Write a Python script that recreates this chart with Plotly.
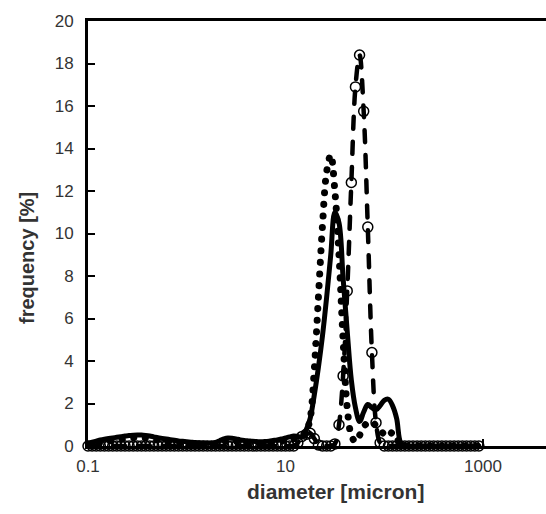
import plotly.graph_objects as go

# particle diameters (micron), 24 log-spaced size classes per decade
diameter = [
    0.1, 0.1101, 0.1212, 0.1334, 0.1468, 0.1616, 0.1778, 0.1957, 0.2154, 0.2371, 0.2610, 0.2873,
    0.3162, 0.3481, 0.3831, 0.4217, 0.4642, 0.5109, 0.5623, 0.6190, 0.6813, 0.7499, 0.8254, 0.9085,
    1.0, 1.101, 1.212, 1.334, 1.468, 1.616, 1.778, 1.957, 2.154, 2.371, 2.610, 2.873,
    3.162, 3.481, 3.831, 4.217, 4.642, 5.109, 5.623, 6.190, 6.813, 7.499, 8.254, 9.085,
    10.0, 11.01, 12.12, 13.34, 14.68, 16.16, 17.78, 19.57, 21.54, 23.71, 26.10, 28.73,
    31.62, 34.81, 38.31, 42.17, 46.42, 51.09, 56.23, 61.90, 68.13, 74.99, 82.54, 90.85,
    100.0, 110.1, 121.2, 133.4, 146.8, 161.6, 177.8, 195.7, 215.4, 237.1, 261.0, 287.3,
    316.2, 348.1, 383.1, 421.7, 464.2, 510.9, 562.3, 619.0, 681.3, 749.9, 825.4, 908.5,
]

freq_solid = [
    0.13, 0.18, 0.23, 0.28, 0.32, 0.35, 0.38, 0.41, 0.44, 0.47,
    0.49, 0.51, 0.52, 0.52, 0.50, 0.47, 0.43, 0.39, 0.36, 0.33,
    0.30, 0.27, 0.24, 0.22, 0.20, 0.18, 0.16, 0.15, 0.14, 0.13,
    0.13, 0.17, 0.25, 0.33, 0.38, 0.37, 0.33, 0.29, 0.26, 0.24,
    0.22, 0.21, 0.20, 0.21, 0.23, 0.26, 0.29, 0.33, 0.38, 0.43,
    0.47, 0.45, 0.42, 0.75, 1.3, 2.4, 3.7, 5.2, 7.0, 9.0,
    11.0, 10.5, 7.9, 5.4, 3.1, 1.8, 1.15, 1.6, 1.95, 1.8,
    1.7, 1.9, 2.15, 2.2, 1.9, 1.3, 0.15, 0.0, 0.0, 0.0,
    0.0, 0.0, 0.0, 0.0, 0.0, 0.0, 0.0, 0.0, 0.0, 0.0,
    0.0, 0.0, 0.0, 0.0, 0.0, 0.0,
]

freq_dotted = [
    0.04, 0.06, 0.11, 0.16, 0.20, 0.23, 0.26, 0.29, 0.32, 0.35,
    0.37, 0.39, 0.40, 0.40, 0.38, 0.35, 0.31, 0.27, 0.24, 0.21,
    0.18, 0.15, 0.12, 0.10, 0.08, 0.06, 0.05, 0.04, 0.04, 0.04,
    0.04, 0.06, 0.12, 0.20, 0.26, 0.26, 0.22, 0.18, 0.15, 0.13,
    0.11, 0.10, 0.09, 0.10, 0.12, 0.15, 0.18, 0.22, 0.27, 0.31,
    0.35, 0.35, 0.40, 0.65, 1.3, 3.6, 7.0, 10.4, 12.9, 13.7,
    12.0, 9.0, 5.0, 1.8, 0.5, 0.2, 0.5, 0.9, 1.1, 1.15,
    0.95, 0.75, 0.55, 0.45, 0.65, 0.4, 0.05, 0.0, 0.0, 0.0,
    0.0, 0.0, 0.0, 0.0, 0.0, 0.0, 0.0, 0.0, 0.0, 0.0,
    0.0, 0.0, 0.0, 0.0, 0.0, 0.0,
]

freq_dashed = [
    0.0, 0.0, 0.0, 0.0, 0.0, 0.0, 0.0, 0.0, 0.0, 0.0,
    0.0, 0.0, 0.0, 0.0, 0.0, 0.0, 0.0, 0.0, 0.0, 0.0,
    0.0, 0.0, 0.0, 0.0, 0.0, 0.0, 0.0, 0.0, 0.0, 0.0,
    0.0, 0.0, 0.0, 0.0, 0.0, 0.0, 0.0, 0.0, 0.0, 0.0,
    0.0, 0.0, 0.0, 0.0, 0.0, 0.0, 0.0, 0.0, 0.0, 0.0,
    0.0, 0.15, 0.45, 0.55, 0.6, 0.35, 0.05, 0.0, 0.0, 0.0,
    0.1, 1.0, 3.3, 7.3, 12.4, 16.9, 18.4, 15.75, 10.3, 4.4,
    1.1, 0.15, 0.0, 0.0, 0.0, 0.0, 0.0, 0.0, 0.0, 0.0,
    0.0, 0.0, 0.0, 0.0, 0.0, 0.0, 0.0, 0.0, 0.0, 0.0,
    0.0, 0.0, 0.0, 0.0, 0.0, 0.0,
]

x_tick_vals = [0.1, 10, 1000]
x_tick_text = ["0.1", "10", "1000"]
y_tick_vals = [0, 2, 4, 6, 8, 10, 12, 14, 16, 18, 20]

FONT = "Liberation Sans, Arial, sans-serif"

fig = go.Figure()
fig.add_trace(go.Scatter(
    x=diameter, y=freq_solid, mode="lines",
    line=dict(color="black", width=5, shape="spline"), showlegend=False))
fig.add_trace(go.Scatter(
    x=diameter, y=freq_dotted, mode="lines",
    line=dict(color="black", width=7, shape="spline", dash="0.1px,11.5px"), showlegend=False))
fig.add_trace(go.Scatter(
    x=diameter, y=freq_dashed, mode="lines+markers", cliponaxis=False,
    line=dict(color="black", width=4.5, shape="spline", dash="12px,13px"),
    marker=dict(symbol="circle-open", size=10, color="black", line=dict(width=1.5)),
    showlegend=False))

L, R, T, B = 88, 546, 21, 446
W, H = 546, 514
decade = 98.75
fig.update_layout(
    width=W, height=H,
    margin=dict(l=L, r=W - R, t=T, b=H - B, pad=0),
    paper_bgcolor="white", plot_bgcolor="white",
    font=dict(family=FONT, size=17, color="#333333"),
    xaxis=dict(
        type="log", range=[-1, -1 + (R - L) / decade],
        tickvals=x_tick_vals, ticktext=x_tick_text,
        ticks="inside", ticklen=7, tickwidth=2, tickcolor="black",
        showline=True, linewidth=3, linecolor="black", mirror=True,
        showgrid=False, zeroline=False, ticklabelstandoff=3,
    ),
    yaxis=dict(
        range=[0, 20], tickvals=y_tick_vals,
        ticks="inside", ticklen=7, tickwidth=2, tickcolor="black",
        showline=True, linewidth=3, linecolor="black",
        showgrid=False, zeroline=False, ticklabelstandoff=8,
    ),
    annotations=[
        dict(text="diameter [micron]", xref="paper", yref="paper",
             x=(335 - L) / (R - L), y=(B - 491) / (B - T),
             xanchor="center", yanchor="middle", showarrow=False,
             font=dict(family=FONT, size=21, color="#333333", weight="bold")),
        dict(text="frequency [%]", xref="paper", yref="paper",
             x=(27 - L) / (R - L), y=(B - 258) / (B - T), textangle=-90,
             xanchor="center", yanchor="middle", showarrow=False,
             font=dict(family=FONT, size=20, color="#333333", weight="bold")),
    ],
)

post = """
document.body.style.margin = '0';
var gd = document.getElementById('{plot_id}');
function rc(){ gd.querySelectorAll('.scatterlayer .js-line').forEach(function(p){ p.style.strokeLinecap='round'; p.style.strokeLinejoin='round'; }); }
rc(); setTimeout(rc, 30);
if (gd.on) { gd.on('plotly_afterplot', rc); }
"""
fig.write_html("out.html", post_script=post, config={"displayModeBar": False})
